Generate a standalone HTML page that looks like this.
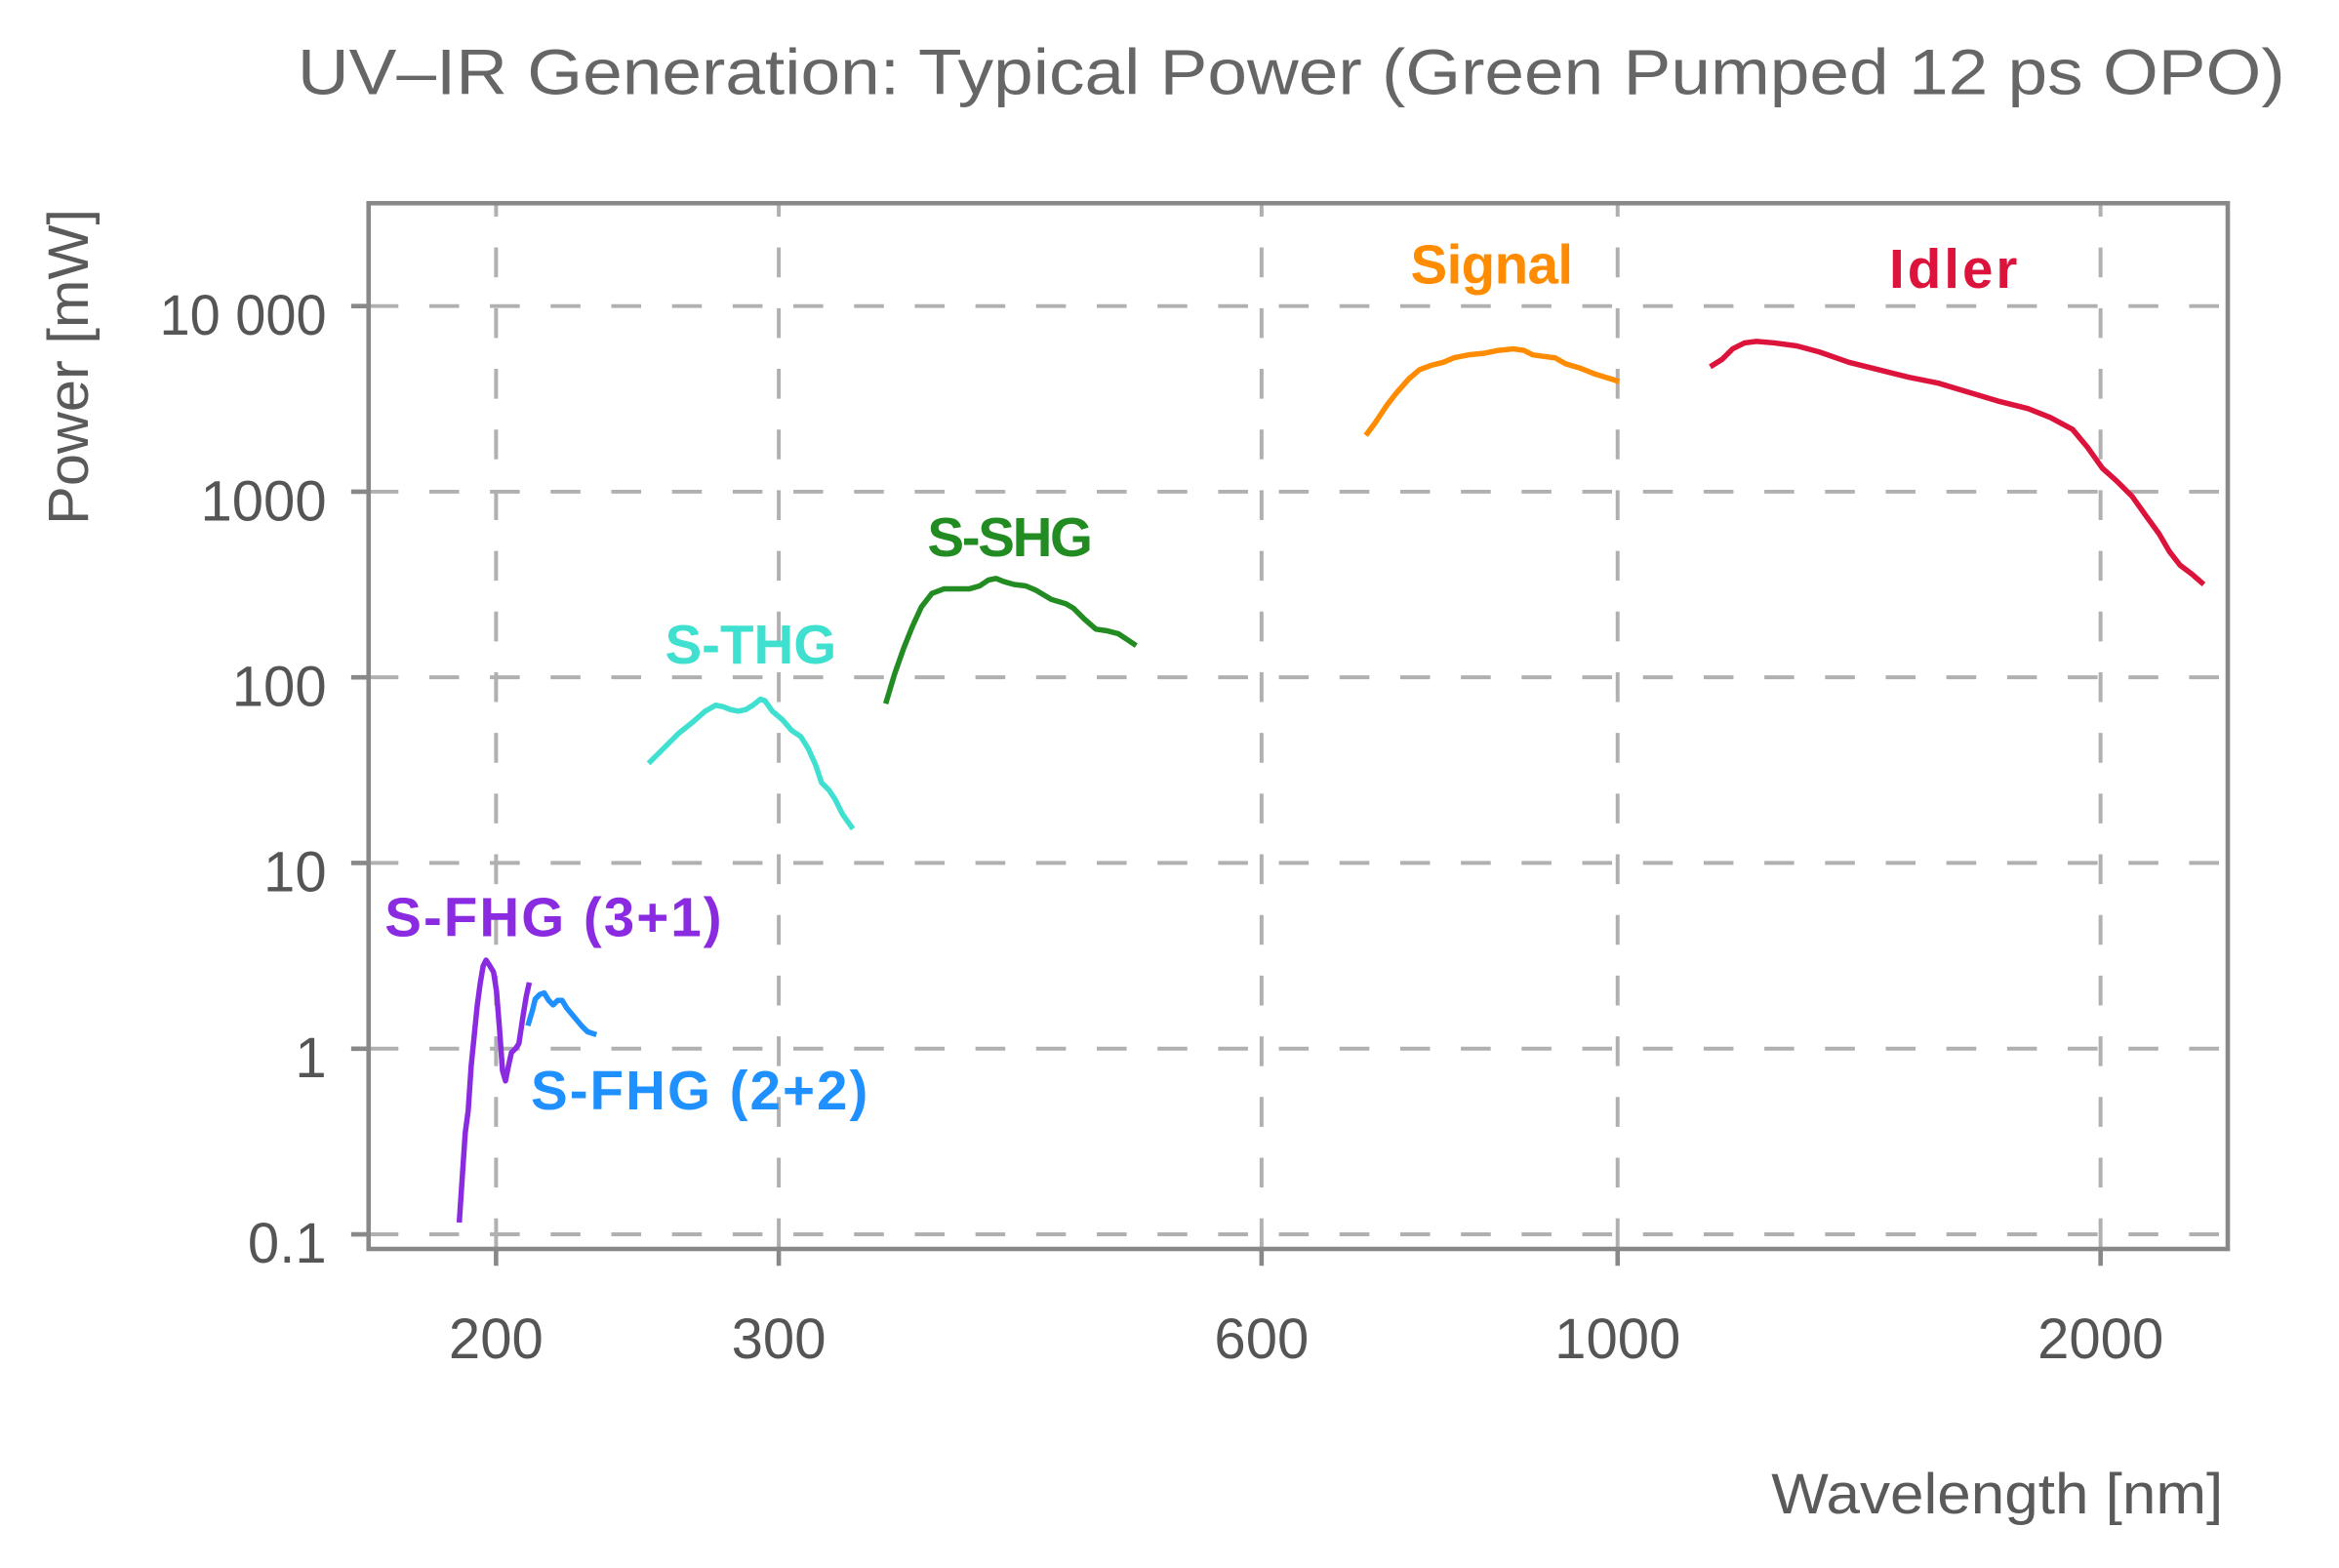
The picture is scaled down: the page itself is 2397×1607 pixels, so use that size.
<!DOCTYPE html>
<html><head><meta charset="utf-8"><style>html,body{margin:0;padding:0;background:#fff}svg{display:block}</style></head>
<body>
<svg width="2397" height="1607" viewBox="0 0 1568.7 1051.7" xmlns="http://www.w3.org/2000/svg" font-family="'Liberation Sans', 'DejaVu Sans', sans-serif">
<rect width="1568.7" height="1051.7" fill="#fff"/>
<text x="866" y="63" text-anchor="middle" font-size="43" fill="#666" textLength="1333" lengthAdjust="spacingAndGlyphs">UV–IR Generation: Typical Power (Green Pumped 12 ps OPO)</text>
<g stroke="#b0b0b0" stroke-width="2.6" stroke-dasharray="20 20.7" fill="none">
<path d="M247.2 205.3H1494M247.2 329.8H1494M247.2 454.3H1494M247.2 578.8H1494M247.2 703.4H1494M247.2 827.9H1494"/>
<path stroke-dashoffset="11" d="M332.7 136.3V837.7M522.3 136.3V837.7M846.1 136.3V837.7M1084.9 136.3V837.7M1408.8 136.3V837.7"/>
</g>
<rect x="247.2" y="136.3" width="1246.9" height="701.4" fill="none" stroke="#888" stroke-width="3"/>
<g stroke="#888" stroke-width="3">
<path d="M235.5 205.3H247.2M235.5 329.8H247.2M235.5 454.3H247.2M235.5 578.8H247.2M235.5 703.4H247.2M235.5 827.9H247.2"/>
<path d="M332.7 837.7V849M522.3 837.7V849M846.1 837.7V849M1084.9 837.7V849M1408.8 837.7V849"/>
</g>
<g font-size="38" fill="#555" text-anchor="end">
<text x="219" y="224.6" textLength="112" lengthAdjust="spacingAndGlyphs">10 000</text>
<text x="219" y="349">1000</text>
<text x="219" y="473.5">100</text>
<text x="219" y="598">10</text>
<text x="219" y="722.6">1</text>
<text x="219" y="847">0.1</text>
</g>
<g font-size="38" fill="#555" text-anchor="middle">
<text x="332.7" y="911">200</text>
<text x="522.3" y="911">300</text>
<text x="846.1" y="911">600</text>
<text x="1084.9" y="911">1000</text>
<text x="1408.8" y="911">2000</text>
</g>
<text x="1491" y="1015" text-anchor="end" font-size="38" fill="#5a5a5a" textLength="303" lengthAdjust="spacingAndGlyphs">Wavelength [nm]</text>
<text transform="translate(59 246) rotate(-90)" text-anchor="middle" font-size="38" fill="#5a5a5a" textLength="212" lengthAdjust="spacingAndGlyphs">Power [mW]</text>
<g fill="none" stroke-width="3.6" stroke-linejoin="round" stroke-linecap="butt">
<polyline stroke="#8A2BE2" points="308,820 310,790 312,760 314,745 316,715 318,695 320,675 322,660 324,648 326,644 328,647 331,652 333,665 335,690 337,718 339,725 341,715 343,706 346,703 348,700 351,680 353,668 355,659"/>
<polyline stroke="#1E90FF" points="354,688 357,678 359,670 362,667 365,666 368,671 371,674 374,671 377,671 380,676 385,682 390,688 394,692 400,694"/>
<polyline stroke="#40E0D0" points="435,512 445,502 455,492 465,484 473,477 480,473 485,474 490,476 495,477 500,476 505,473 510,469 513,470 518,477 525,483 531,490 537,494 542,502 547,513 551,525 556,530 560,536 565,546 572,556"/>
<polyline stroke="#228B22" points="594,472 600,452 606,435 612,420 618,407 625,398 633,395 640,395 650,395 657,393 663,389 668,388 673,390 680,392 688,393 695,396 705,402 715,405 720,408 727,415 735,422 742,423 750,425 756,429 762,433"/>
<polyline stroke="#FF8C00" points="916,292 922,284 930,272 937,263 945,254 952,248 960,245 968,243 975,240 985,238 995,237 1005,235 1015,234 1022,235 1028,238 1035,239 1043,240 1050,244 1060,247 1070,251 1080,254 1086,256"/>
<polyline stroke="#DC143C" points="1147,246 1155,241 1162,234 1170,230 1178,229 1190,230 1205,232 1220,236 1240,243 1260,248 1280,253 1300,257 1320,263 1340,269 1360,274 1375,280 1390,288 1400,300 1410,314 1420,323 1430,333 1440,347 1448,358 1455,370 1462,379 1470,385 1478,392"/>
</g>
<g font-size="37" font-weight="bold" lengthAdjust="spacingAndGlyphs">
<text x="946" y="190" fill="#FF8C00" textLength="109">Signal</text>
<text x="1267" y="193" fill="#DC143C" textLength="86">Idler</text>
<text x="622" y="373" fill="#228B22" textLength="111">S-SHG</text>
<text x="446" y="445" fill="#40E0D0" textLength="115">S-THG</text>
<text x="258" y="628" fill="#8A2BE2" textLength="226">S-FHG (3+1)</text>
<text x="356" y="744" fill="#1E90FF" textLength="226">S-FHG (2+2)</text>
</g>
</svg>
</body></html>
